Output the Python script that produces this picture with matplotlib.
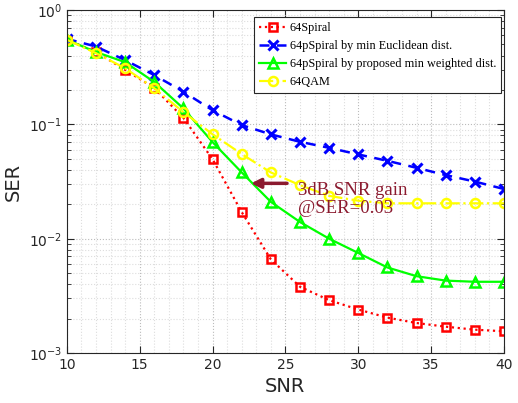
import numpy as np
import matplotlib
matplotlib.use('Agg')
import matplotlib.pyplot as plt
from matplotlib.ticker import LogLocator, MultipleLocator

snr = [10, 12, 14, 16, 18, 20, 22, 24, 26, 28, 30, 32, 34, 36, 38, 40]

ser_spiral = [0.55, 0.43, 0.30, 0.208, 0.114, 0.0496, 0.0171, 0.0066, 0.0038,
              0.0029, 0.0024, 0.00204, 0.00183, 0.0017, 0.0016, 0.00155]
ser_euclid = [0.56, 0.48, 0.365, 0.27, 0.193, 0.133, 0.0986, 0.0818, 0.0704,
              0.0624, 0.0546, 0.048, 0.0417, 0.036, 0.0316, 0.0272]
ser_weighted = [0.55, 0.43, 0.35, 0.235, 0.138, 0.070, 0.038, 0.021, 0.014,
                0.010, 0.0075, 0.0056, 0.0047, 0.0043, 0.0042, 0.0042]
ser_qam = [0.55, 0.42, 0.31, 0.207, 0.128, 0.082, 0.055, 0.038, 0.0294,
           0.0237, 0.0215, 0.0204, 0.0204, 0.0204, 0.0204, 0.0204]

labels = ['64Spiral', '64pSpiral by min Euclidean dist.',
          '64pSpiral by proposed min weighted dist.', '64QAM']

plt.rcParams['font.family'] = 'DejaVu Sans'
plt.rcParams['xtick.direction'] = 'in'
plt.rcParams['ytick.direction'] = 'in'

fig = plt.figure(figsize=(5.18, 4.03), dpi=100)
ax = fig.add_axes([0.129, 0.124, 0.844, 0.851])

ax.semilogy(snr, ser_spiral, ':', color='red', lw=1.6, marker='s', ms=5.5,
            mfc='none', mew=1.8, label=labels[0])
ax.semilogy(snr, ser_euclid, '--', color='blue', lw=1.8, marker='x', ms=6.5,
            mew=2.2, label=labels[1], dashes=(4, 3))
ax.semilogy(snr, ser_weighted, '-', color='#00ff00', lw=1.6, marker='^', ms=7.5,
            mfc='none', mew=1.8, label=labels[2])
ax.semilogy(snr, ser_qam, '-.', color='yellow', lw=1.6, marker='o', ms=6.5,
            mfc='none', mew=1.8, label=labels[3])

ax.set_xlim(10, 40)
ax.set_ylim(1e-3, 1)
ax.xaxis.set_major_locator(MultipleLocator(5))
ax.xaxis.set_minor_locator(MultipleLocator(1))
ax.yaxis.set_minor_locator(LogLocator(base=10, subs=np.arange(2, 10)))
ax.tick_params(which='both', top=True, right=True, labelsize=10, colors='#262626')
ax.tick_params(which='major', length=5)
ax.tick_params(which='minor', length=3)
ax.tick_params(axis='x', which='minor', length=0)
ax.grid(True, which='major', ls=':', color='#bbbbbb', lw=0.8)
ax.grid(True, which='minor', ls=':', color='#dddddd', lw=0.8)
for s in ax.spines.values():
    s.set_color('#262626')
    s.set_linewidth(0.8)

ax.set_xlabel('SNR', fontsize=14, color='#262626')
ax.set_ylabel('SER', fontsize=14, color='#262626')

dark = '#8b1a2f'
ax.annotate('', xy=(22.45, 0.0305), xytext=(25.3, 0.0305),
            arrowprops=dict(arrowstyle='-|>', color=dark, lw=2.5, mutation_scale=14))
ax.text(25.85, 0.0315, '3dB SNR gain\n@SER=0.03', color=dark, fontsize=13.5,
        family='Liberation Serif', va='top', ha='left', linespacing=1.1)

leg = ax.legend(loc='upper right', prop={'family': 'Liberation Serif', 'size': 8.8},
                fancybox=False, framealpha=1, edgecolor='#262626',
                handlelength=2.2, handletextpad=0.3, borderpad=0.4, labelspacing=0.5,
                borderaxespad=0, bbox_to_anchor=(0.993, 0.98))
leg.get_frame().set_linewidth(0.8)

fig.savefig('out.png', dpi=100)
